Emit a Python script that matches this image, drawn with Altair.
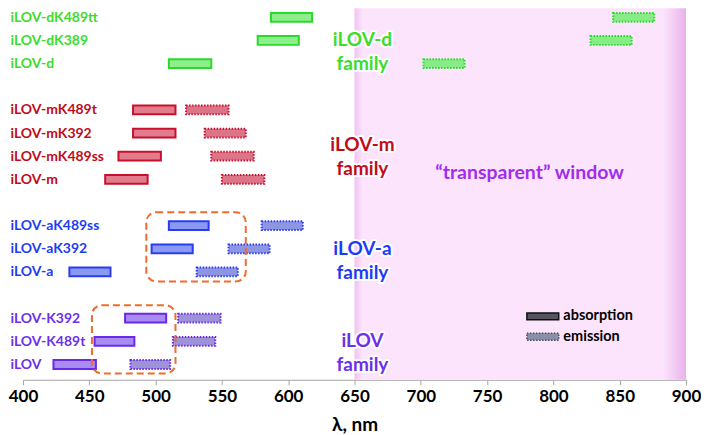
import altair as alt
import pandas as pd

# ---------------- data ----------------
names = ["iLOV-dK489tt", "iLOV-dK389", "iLOV-d",
         "iLOV-mK489t", "iLOV-mK392", "iLOV-mK489ss", "iLOV-m",
         "iLOV-aK489ss", "iLOV-aK392", "iLOV-a",
         "iLOV-K392", "iLOV-K489t", "iLOV"]
rows = [0, 1, 2, 4, 5, 6, 7, 9, 10, 11, 13, 14, 15]
families = ["iLOV-d"] * 3 + ["iLOV-m"] * 4 + ["iLOV-a"] * 3 + ["iLOV"] * 3
abs_start = [587, 577, 510, 483, 483, 472, 462, 510, 497, 435, 477, 454, 423]
abs_end = [618, 608, 542, 515, 515, 504, 494, 540, 528, 466, 508, 484, 455]
em_start = [845, 828, 702, 523, 537, 542, 550, 580, 555, 531, 517, 513, 481]
em_end = [876, 859, 733, 555, 568, 574, 582, 611, 586, 562, 549, 545, 511]

family_names = ["iLOV-d", "iLOV-m", "iLOV-a", "iLOV"]
types = ["absorption", "emission"]

window_start = [650]
window_end = [900]
window_text = ["\u201ctransparent\u201d window"]

box_start = [493, 452]
box_end = [568, 515]
box_top = [8.42, 12.44]
box_bottom = [11.41, 15.39]

x_ticks = [400, 450, 500, 550, 600, 650, 700, 750, 800, 850, 900]

# annotation placement (in data units)
LEG_X0, LEG_X1, LEG_TX = 780, 804, 807.5
LEG_ROWS = [12.92, 13.8]
FAM_LABEL_NM = 656
WIN_TEXT_NM, WIN_TEXT_ROW = 782, 6.73

# ---------------- styles ----------------
FONT = "Lato"
text_colors = ["#3CDC2C", "#C00C1A", "#1E3CF5", "#6C2FEA"]
stroke_colors = ["#2CD82C", "#C8102E", "#2B3CF0", "#6A2AE8"]
abs_fill = ["#8CEF8C", "#E27C8C", "#8A9AF2", "#A88CF2"]
em_fill = ["#86EC86", "#DE7488", "#8E96E4", "#9E92D8"]

recs = []
for i in range(len(names)):
    recs.append(dict(name=names[i], row=rows[i], family=families[i], type="absorption",
                     start=abs_start[i], end=abs_end[i]))
    recs.append(dict(name=names[i], row=rows[i], family=families[i], type="emission",
                     start=em_start[i], end=em_end[i]))
bars_df = pd.DataFrame(recs)
bars_df["key"] = bars_df["family"] + "|" + bars_df["type"]
fill_domain = [f + "|" + t for f in family_names for t in types]
fill_range = []
for j in range(len(family_names)):
    fill_range += [abs_fill[j], em_fill[j]]

label_array = [""] * 16
for n, r in zip(names, rows):
    label_array[r] = n
label_expr = "[" + ",".join("'" + s + "'" for s in label_array) + "][datum.value]"

xs = alt.Scale(domain=[400, 900], nice=False, zero=False)
ys = alt.Scale(domain=[-0.39, 15.66], reverse=True, nice=False, zero=False)

x_axis = alt.Axis(values=x_ticks, title="\u03bb, nm", grid=False,
                  domainColor="#A6A6A6", tickColor="#A6A6A6", tickSize=5,
                  labelFont=FONT, labelFontSize=17, labelFontWeight="bold", labelColor="black",
                  labelPadding=4, titleFont=FONT, titleFontSize=19, titleFontWeight="bold",
                  titleColor="black", titlePadding=11, labelFlush=False)
y_axis = alt.Axis(values=rows, labelExpr=label_expr, title=None, grid=False, domain=False,
                  ticks=False, tickSize=0, labelAlign="left", labelBaseline="middle",
                  labelPadding=13, labelFont=FONT, labelFontSize=14, labelFontWeight="bold",
                  labelColor={"condition": [
                      {"test": "datum.value <= 2.5", "value": text_colors[0]},
                      {"test": "datum.value <= 7.5", "value": text_colors[1]},
                      {"test": "datum.value <= 11.5", "value": text_colors[2]}],
                      "value": text_colors[3]})

gradient = alt.LinearGradient(
    gradient="linear", x1=0, x2=1, y1=0, y2=0,
    stops=[alt.GradientStop(offset=0, color="#F0C2F0"),
           alt.GradientStop(offset=0.025, color="#FCE5FC"),
           alt.GradientStop(offset=0.93, color="#FCE5FC"),
           alt.GradientStop(offset=1, color="#EAB2EC")])

window = alt.Chart(pd.DataFrame({"start": window_start, "end": window_end})).mark_rect(
    color=gradient).encode(
    x=alt.X("start:Q", scale=xs, axis=x_axis), x2="end:Q")

bar_base = alt.Chart(bars_df).transform_calculate(
    y0="datum.row - 0.19", y1="datum.row + 0.19")
bar_enc = dict(
    x=alt.X("start:Q", scale=xs, axis=x_axis), x2="end:Q",
    y=alt.Y("y0:Q", scale=ys, axis=y_axis), y2="y1:Q",
    fill=alt.Fill("key:N", scale=alt.Scale(domain=fill_domain, range=fill_range), legend=None),
    stroke=alt.Stroke("family:N", scale=alt.Scale(domain=family_names, range=stroke_colors), legend=None))
abs_bars = bar_base.transform_filter("datum.type == 'absorption'").mark_rect(
    strokeWidth=2).encode(**bar_enc)
em_bars = bar_base.transform_filter("datum.type == 'emission'").mark_rect(
    strokeWidth=2, strokeDash=[1.5, 1.5]).encode(**bar_enc)

fam_base = alt.Chart(bars_df).transform_aggregate(
    ymid="mean(row)", groupby=["family"]).transform_calculate(
    label="datum.family + '\\nfamily'")
fam_enc = dict(x=alt.X(datum=FAM_LABEL_NM, scale=xs, axis=x_axis),
               y=alt.Y("ymid:Q", scale=ys, axis=y_axis),
               text="label:N")
fam_halo = fam_base.mark_text(font=FONT, fontSize=19, fontWeight="bold", lineBreak="\n",
                              lineHeight=24, align="center", baseline="middle",
                              color="white", stroke="white", strokeWidth=4,
                              strokeJoin="round", opacity=0.9).encode(**fam_enc)
fam_text = fam_base.mark_text(font=FONT, fontSize=19, fontWeight="bold", lineBreak="\n",
                              lineHeight=24, align="center", baseline="middle").encode(
    color=alt.Color("family:N", scale=alt.Scale(domain=family_names, range=text_colors), legend=None),
    **fam_enc)

win_text = alt.Chart(pd.DataFrame({"t": window_text})).mark_text(
    font=FONT, fontSize=19.5, fontWeight="bold", color="#A22CEE", align="center",
    baseline="middle").encode(
    x=alt.X(datum=WIN_TEXT_NM, scale=xs, axis=x_axis),
    y=alt.Y(datum=WIN_TEXT_ROW, scale=ys, axis=y_axis),
    text="t:N")

boxes = alt.Chart(pd.DataFrame({"bs": box_start, "be": box_end, "bt": box_top, "bb": box_bottom})).mark_rect(
    cornerRadius=10, fillOpacity=0, stroke="#EF6C2C", strokeWidth=2, strokeDash=[7, 4]).encode(
    x=alt.X("bs:Q", scale=xs, axis=x_axis), x2="be:Q",
    y=alt.Y("bt:Q", scale=ys, axis=y_axis), y2="bb:Q")

# manual legend
leg_df = pd.DataFrame({"type": types, "r": LEG_ROWS})
leg_base = alt.Chart(leg_df).transform_calculate(
    x0=str(LEG_X0), x1=str(LEG_X1), tx=str(LEG_TX),
    ya="datum.r - 0.15", yb="datum.r + 0.15")
leg_abs = leg_base.transform_filter("datum.type == 'absorption'").mark_rect(
    fill="#55555F", stroke="#111111", strokeWidth=1.5).encode(
    x=alt.X("x0:Q", scale=xs, axis=x_axis), x2="x1:Q",
    y=alt.Y("ya:Q", scale=ys, axis=y_axis), y2="yb:Q")
leg_em = leg_base.transform_filter("datum.type == 'emission'").mark_rect(
    fill="#8A8FA8", stroke="#4A4A5A", strokeWidth=1.5, strokeDash=[1.5, 1.5]).encode(
    x=alt.X("x0:Q", scale=xs, axis=x_axis), x2="x1:Q",
    y=alt.Y("ya:Q", scale=ys, axis=y_axis), y2="yb:Q")
leg_txt = leg_base.mark_text(font=FONT, fontSize=14.5, fontWeight="bold", color="black",
                             align="left", baseline="middle").encode(
    x=alt.X("tx:Q", scale=xs, axis=x_axis),
    y=alt.Y("r:Q", scale=ys, axis=y_axis),
    text="type:N")

chart = alt.layer(window, abs_bars, em_bars, fam_halo, fam_text, win_text, boxes,
                  leg_abs, leg_em, leg_txt).properties(
    width=664, height=372,
    padding={"left": 0, "top": 0, "right": 0, "bottom": 0},
    background="white",
).configure_view(stroke=None)

chart.save("out.html", embed_options={"renderer": "svg", "actions": False})
